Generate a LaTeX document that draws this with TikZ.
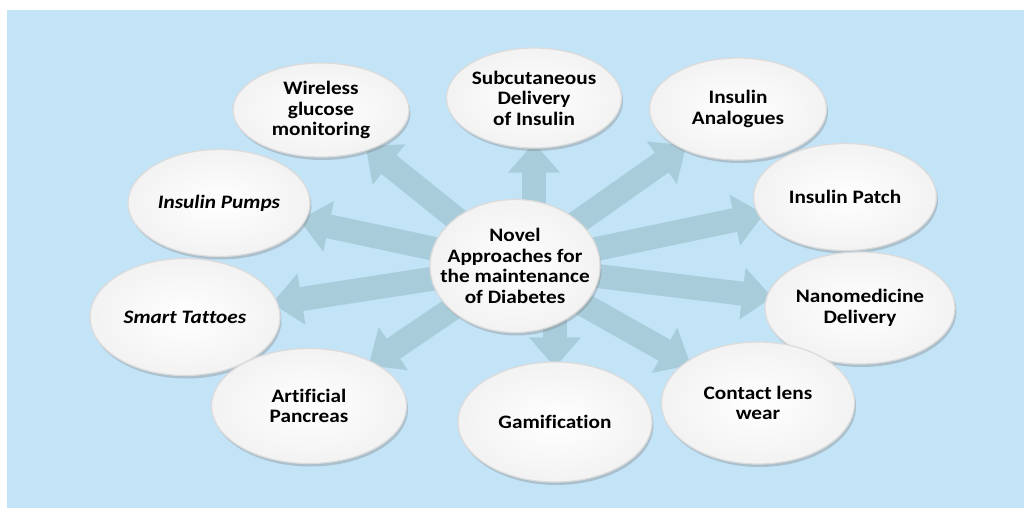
\documentclass[tikz,border=0pt]{standalone}
\usepackage{fontspec}
\setmainfont{Carlito}[FakeStretch=1.12, Ligatures=CommonOff]
\usetikzlibrary{shapes.geometric, shadows, arrows.meta, backgrounds}
\definecolor{bgblue}{HTML}{C3E3F7}
\definecolor{arrowblue}{HTML}{A9CCDA}

\begin{document}
\begin{tikzpicture}[x=1pt, y=-1pt, font=\fontsize{19}{20.5}\selectfont\bfseries]
 % --- スタイルを定義 ---
 \tikzset{
    bubble/.style={
        ellipse,
        draw=gray!28,
        line width=1.2pt,
        inner color=white,
        outer color=gray!10,
        inner xsep=-30pt,
        inner ysep=-20pt,
        align=center,
        drop shadow={shadow xshift=1.5pt, shadow yshift=-3pt, opacity=0.35}
    },
    bigarrow/.style={
        draw=arrowblue,
        line width=24pt,
        -{Triangle[width=50pt, length=30pt]},
        shorten >=-6pt
    }
 }
 \useasboundingbox (0,0) rectangle (1024,508);

 % --- 中心のノード ---
 \node[bubble, minimum width=170pt, minimum height=133pt] (c) at (515,266)
    {Novel\\Approaches for\\the maintenance\\of Diabetes};

 % --- 周りのノード ---
 \node[bubble, minimum width=176pt, minimum height=94pt] (wgm) at (321,110) {Wireless\\glucose\\monitoring};
 \node[bubble, minimum width=175pt, minimum height=100pt] (sub) at (534,98) {Subcutaneous\\Delivery\\of Insulin};
 \node[bubble, minimum width=177pt, minimum height=102pt] (ana) at (738,109) {Insulin\\Analogues};
 \node[bubble, minimum width=183pt, minimum height=107pt] (pat) at (845,197) {Insulin Patch};
 \node[bubble, minimum width=182pt, minimum height=107pt] (pmp) at (219,203) {\itshape Insulin Pumps};
 \node[bubble, minimum width=190pt, minimum height=117pt] (tat) at (185,317) {\itshape Smart Tattoes};
 \node[bubble, minimum width=190pt, minimum height=112pt] (nan) at (860,308) {Nanomedicine\\Delivery};
 \node[bubble, minimum width=195pt, minimum height=115pt] (art) at (309,406) {Artificial\\Pancreas};
 \node[bubble, minimum width=194pt, minimum height=120pt] (gam) at (555,422) {Gamification};
 \node[bubble, minimum width=193pt, minimum height=122pt] (con) at (758,403) {Contact lens\\wear};

 % --- 背景と矢印 ---
 \begin{pgfonlayer}{background}
  \fill[bgblue] (7,10) rectangle (1024,508);
  \foreach \t in {wgm, pmp, tat, art, con, nan, pat, ana}
    \draw[bigarrow] (c.center) -- (\t);
  % 縦の矢印
  \draw[bigarrow] (c.center -| sub) -- (sub);
  \draw[bigarrow] (c.center -| gam) -- (gam);
 \end{pgfonlayer}
\end{tikzpicture}
\end{document}
